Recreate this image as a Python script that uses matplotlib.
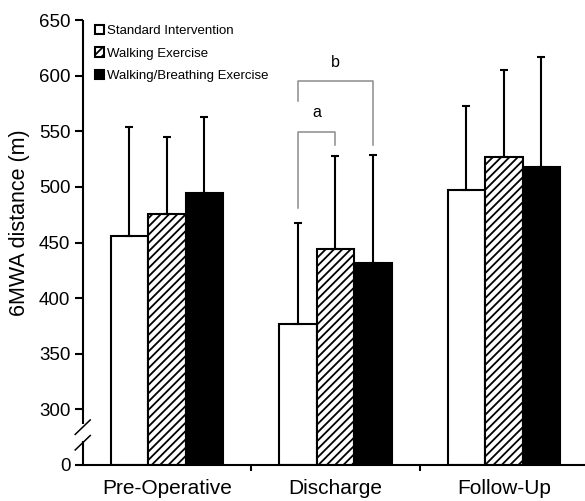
import numpy as np
import matplotlib
matplotlib.use("Agg")
import matplotlib.pyplot as plt
from matplotlib.patches import Patch

plt.rcParams['font.family'] = ['Liberation Sans', 'DejaVu Sans']
plt.rcParams['hatch.linewidth'] = 1.3

# data
phases = ["Pre-Operative", "Discharge", "Follow-Up"]
groups = ["Standard Intervention", "Walking Exercise", "Walking/Breathing Exercise"]
standard_mean = [456, 377, 497]
standard_sd = [98, 91, 76]
walking_mean = [476, 444, 527]
walking_sd = [69, 84, 78]
breathing_mean = [495, 432, 518]
breathing_sd = [68, 97, 99]

# broken axis: the 0..300 part is squeezed into 250..300
base = 250
yticks = [250, 300, 350, 400, 450, 500, 550, 600, 650]
yticklabels = ["0", "300", "350", "400", "450", "500", "550", "600", "650"]

fig = plt.figure(figsize=(5.85, 5.01), dpi=100)
ax = fig.add_axes([0.1414, 0.0719, 0.8586, 0.8878])

x = np.arange(len(phases))
w = 0.2226
styles = [
    dict(facecolor='white', hatch=None),
    dict(facecolor='white', hatch='////'),
    dict(facecolor='black', hatch=None),
]
means = [standard_mean, walking_mean, breathing_mean]
sds = [standard_sd, walking_sd, breathing_sd]
for i in range(3):
    pos = x + (i - 1) * w
    m = np.array(means[i])
    ax.bar(pos, m - base, w, bottom=base, edgecolor='black', linewidth=1.5,
           zorder=2, **styles[i])
    ax.errorbar(pos, m, yerr=[np.zeros(3), sds[i]], fmt='none', ecolor='black',
                elinewidth=1.5, capsize=3.2, capthick=1.5, zorder=3)

# significance brackets at discharge
gray = '#8c8c8c'
xw, xh, xb = 1 - w, 1, 1 + w
ax.plot([xw, xw, xh, xh], [481, 549, 549, 538], color=gray, lw=1.1, zorder=4)
ax.plot([xw, xw, xb, xb], [577, 595.5, 595.5, 538], color=gray, lw=1.1, zorder=4)
ax.text((xw + xh) / 2, 567, "a", ha='center', va='center', fontsize=11.5)
ax.text((xw + xb) / 2, 612, "b", ha='center', va='center', fontsize=11.5)

ax.set_xlim(-0.5, 2.481)
ax.set_ylim(base, 650)
ax.set_yticks(yticks)
ax.set_yticklabels(yticklabels, fontsize=13.5)
ax.set_xticks(x)
ax.set_xticklabels(phases, fontsize=15)
ax.set_xticks([0.5, 1.5], minor=True)
ax.tick_params(axis='x', which='major', length=0, pad=10)
ax.tick_params(axis='x', which='minor', length=4.5, width=1.5, direction='out')
ax.tick_params(axis='y', length=5.8, width=1.5, pad=3)
ax.set_ylabel("6MWA distance (m)", fontsize=15.5)
ax.yaxis.set_label_coords(-0.104, 0.545)

for s in ['top', 'right', 'left']:
    ax.spines[s].set_visible(False)
ax.spines['bottom'].set_linewidth(1.5)

# left spine drawn in two pieces with break marks
tr = ax.get_yaxis_transform()
ax.plot([0, 0], [base, 272], color='black', lw=1.5, transform=tr, clip_on=False,
        solid_capstyle='butt')
ax.plot([0, 0], [287, 650], color='black', lw=1.5, transform=tr, clip_on=False,
        solid_capstyle='butt')
dx = 7.5 / 502
for yc in (270, 284):
    ax.plot([-dx, dx], [yc - 6.5, yc + 6.5], color='black', lw=1.1,
            transform=tr, clip_on=False)

handles = [Patch(facecolor='white', edgecolor='black', linewidth=1.5),
           Patch(facecolor='white', edgecolor='black', linewidth=1.5, hatch='////'),
           Patch(facecolor='black', edgecolor='black', linewidth=1.5)]
ax.legend(handles, groups, loc='upper left', bbox_to_anchor=(0.024, 0.99),
          frameon=False, fontsize=9.5, handlelength=0.7, handleheight=0.7,
          handletextpad=0.25, labelspacing=0.8, borderpad=0, borderaxespad=0)

fig.savefig("out.png", dpi=100)
